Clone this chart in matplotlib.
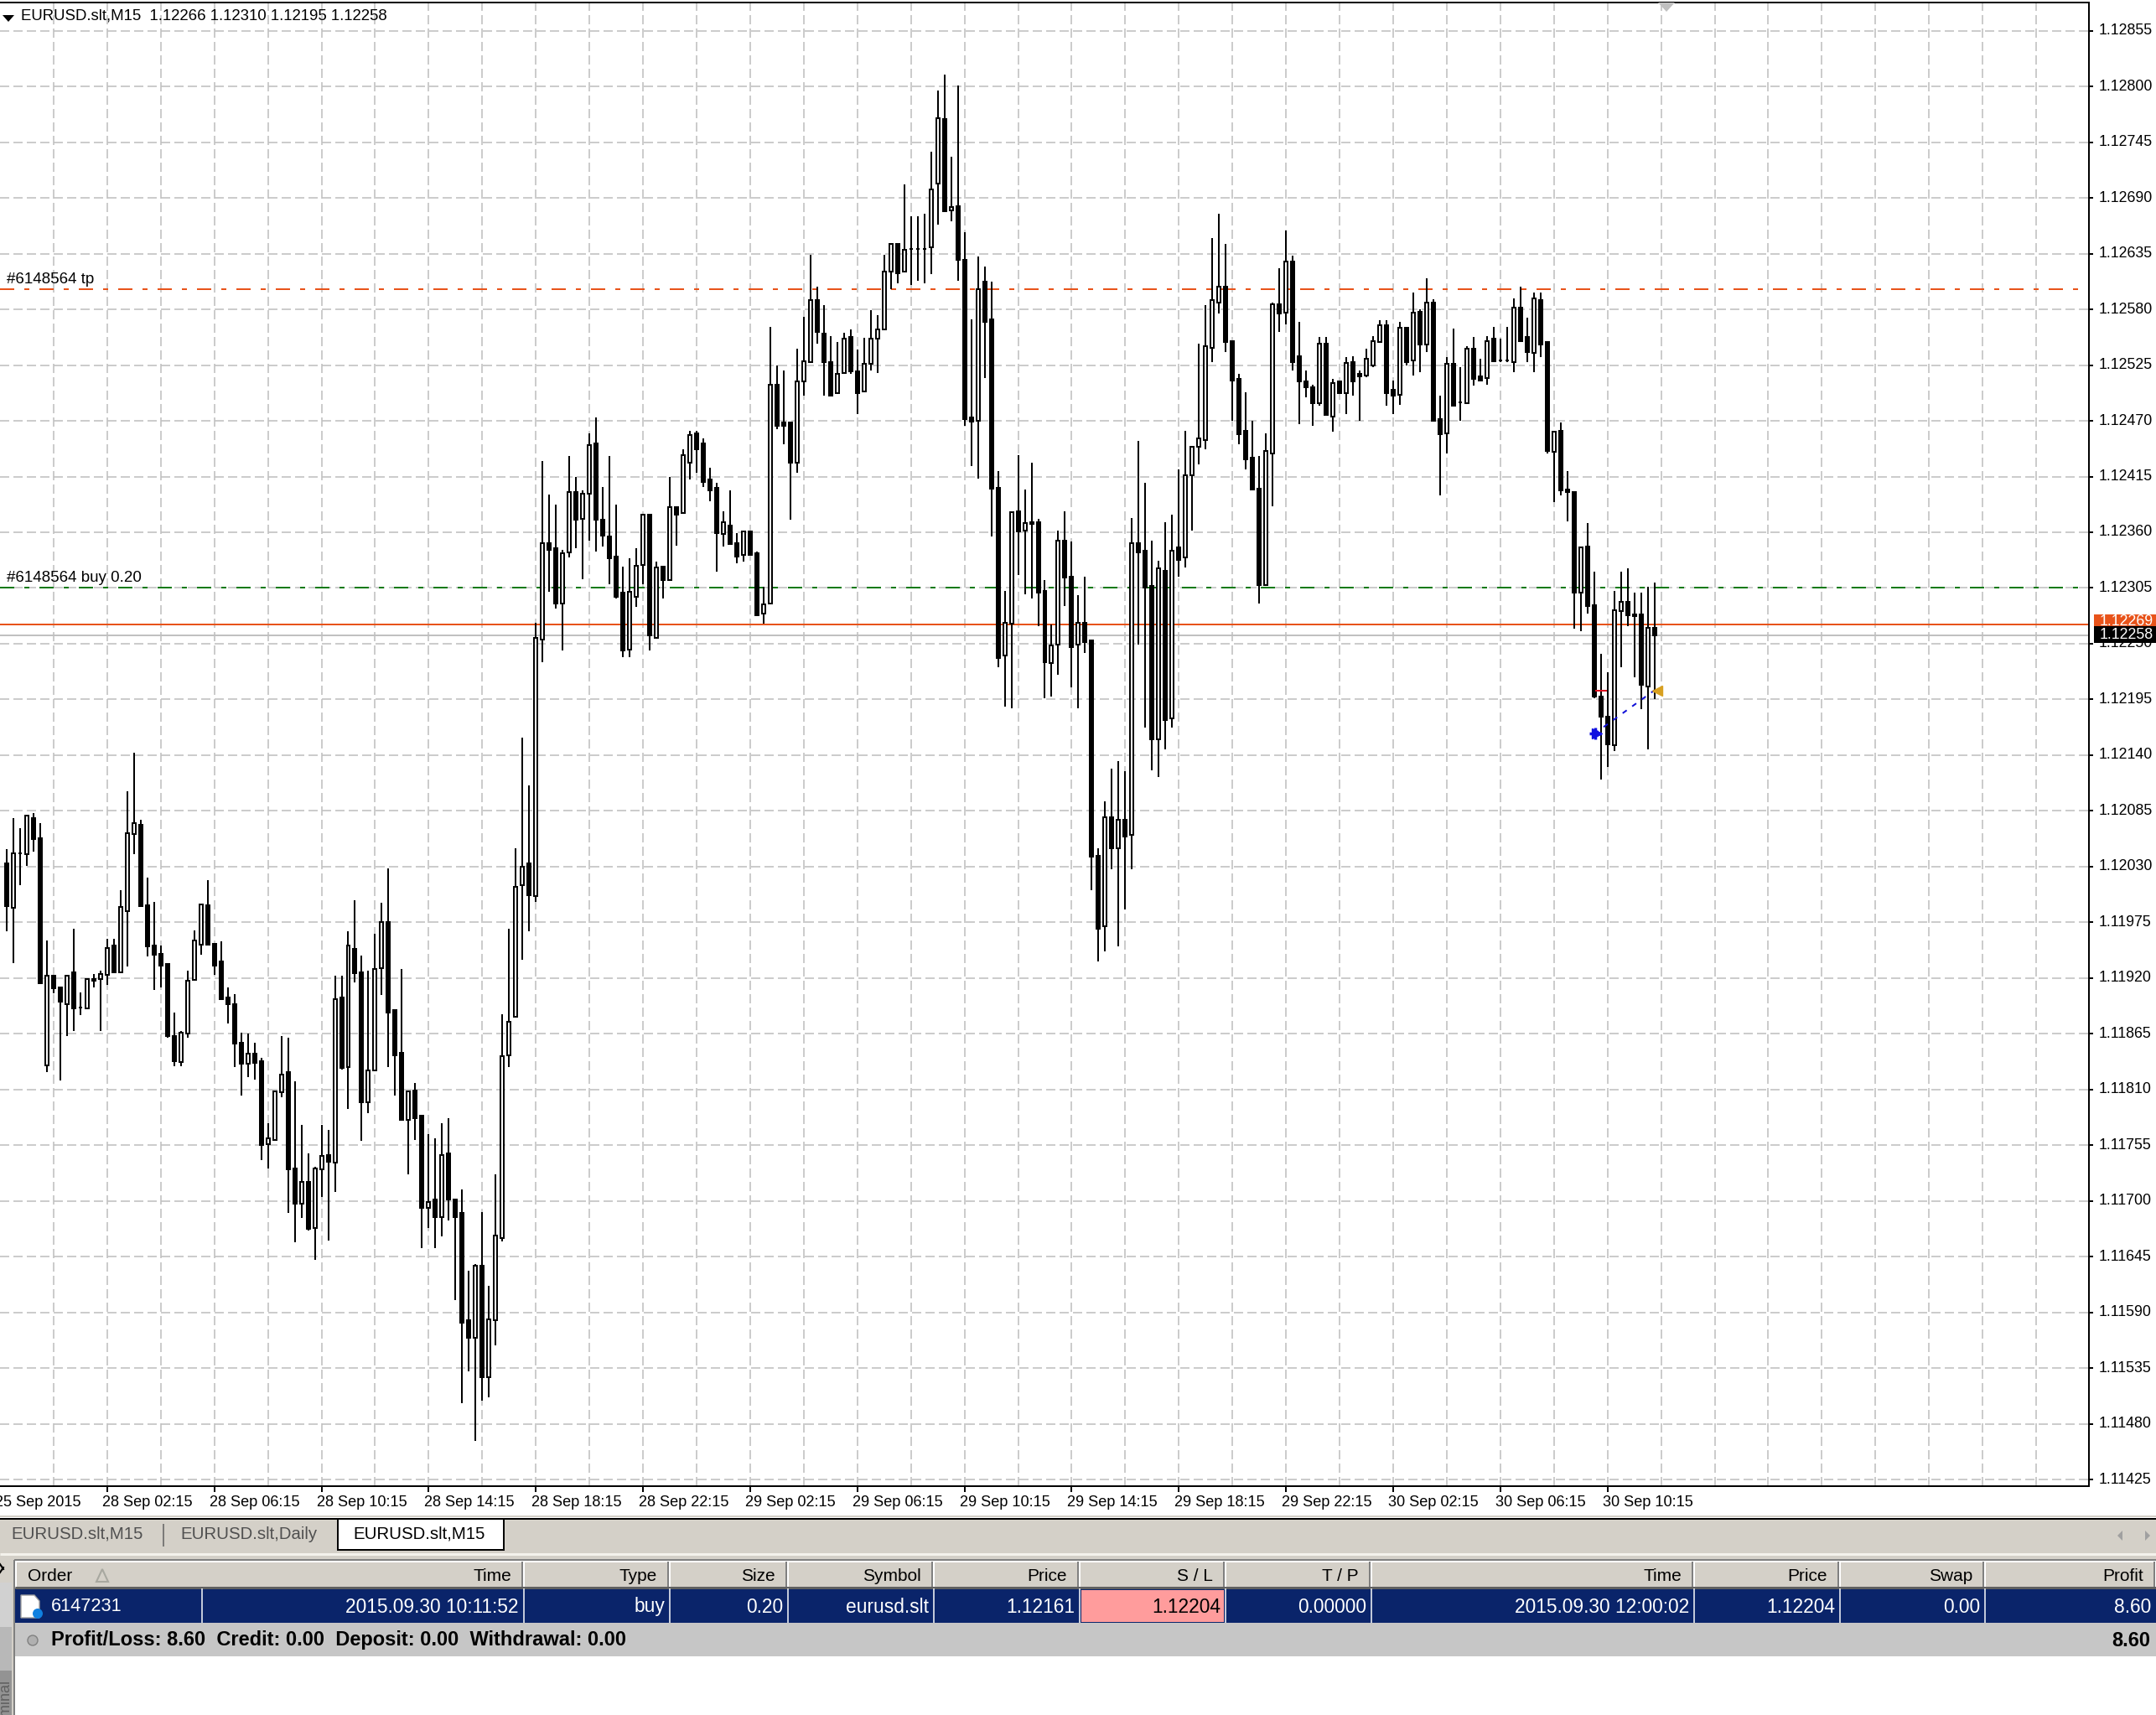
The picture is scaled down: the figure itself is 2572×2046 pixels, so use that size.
import matplotlib
matplotlib.use("Agg")
import matplotlib.pyplot as plt
from matplotlib.patches import Rectangle, Polygon, Circle
from matplotlib.transforms import ScaledTranslation

plt.rcParams["font.family"] = ["Liberation Sans", "DejaVu Sans"]
plt.rcParams["lines.scale_dashes"] = False

# prices in points (1.12258 = 112258), oldest candle first
opens = [
    112033,111989,112043,112042,112078,112058,111834,111922,111911,111894,
    111926,111891,111890,111919,111919,111923,111952,111926,111986,112062,
    112071,111992,111952,111944,111934,111863,111837,111865,111918,111953,
    111992,111954,111936,111901,111894,111856,111835,111845,111838,111756,
    111760,111807,111827,111732,111697,111719,111673,111731,111745,111738,
    111901,111832,111949,111926,111797,111829,111930,111975,111888,111846,
    111780,111809,111784,111693,111701,111684,111747,111701,111688,111582,
    111565,111636,111526,111582,111663,111844,111882,112012,112033,112001,
    112254,112349,112344,112290,112340,112400,112373,112398,112448,112372,
    112356,112336,112300,112244,112296,112328,112377,112256,112326,112313,
    112385,112379,112429,112458,112448,112412,112404,112358,112367,112349,
    112338,112361,112339,112280,112290,112506,112468,112468,112429,112509,
    112528,112589,112556,112528,112497,112517,112553,112519,112499,112526,
    112551,112560,112617,112645,112617,112640,112640,112640,112641,112704,
    112768,112678,112682,112629,112473,112470,112607,112570,112404,112238,
    112270,112381,112362,112370,112370,112302,112231,112249,112352,112316,
    112249,112271,112253,112041,111971,112079,112048,112076,112061,112349,
    112342,112307,112156,112322,112176,112345,112335,112416,112444,112451,
    112542,112587,112602,112549,112511,112460,112434,112403,112308,112438,
    112585,112577,112627,112534,112509,112503,112487,112546,112474,112509,
    112497,112528,112516,112515,112525,112548,112564,112501,112496,112562,
    112530,112578,112545,112587,112472,112458,112526,112488,112487,112541,
    112514,112512,112551,112530,112530,112528,112582,112553,112537,112589,
    112548,112439,112460,112402,112400,112300,112346,112288,112198,112178,
    112150,112282,112291,112279,112279,112208,112266]
highs = [
    112047,112078,112068,112081,112083,112073,111957,111922,111911,111922,
    111969,111906,111919,111924,111927,111959,111959,112007,112104,112142,
    112076,112019,111995,111952,111934,111886,111868,111927,111967,111993,
    112017,111954,111956,111911,111904,111866,111865,111856,111841,111777,
    111808,111863,111861,111818,111775,111747,111734,111775,111770,111922,
    111922,111966,111997,111942,111927,111964,111994,112028,111889,111929,
    111808,111816,111784,111766,111762,111777,111782,111701,111711,111631,
    111638,111689,111616,111726,111884,111969,112048,112157,112110,112271,
    112430,112397,112387,112343,112435,112415,112401,112458,112473,112405,
    112435,112387,112326,112334,112344,112377,112377,112331,112326,112415,
    112385,112442,112460,112460,112453,112424,112409,112381,112401,112359,
    112362,112362,112341,112306,112563,112525,112520,112468,112541,112573,
    112634,112602,112584,112554,112548,112557,112560,112540,112552,112579,
    112574,112634,112645,112645,112703,112672,112672,112674,112736,112796,
    112812,112731,112801,112656,112570,112632,112622,112607,112420,112302,
    112380,112436,112402,112429,112373,112313,112269,112362,112381,112351,
    112298,112316,112253,112048,112094,112127,112134,112124,112374,112450,
    112409,112352,112332,112370,112377,112422,112460,112444,112546,112584,
    112650,112674,112645,112549,112516,112498,112470,112435,112458,112587,
    112621,112658,112633,112568,112520,112506,112553,112553,112511,112509,
    112533,112534,112520,112541,112554,112569,112569,112510,112568,112562,
    112597,112580,112611,112590,112495,112533,112561,112523,112544,112553,
    112531,112554,112563,112551,112563,112591,112602,112572,112597,112597,
    112548,112459,112468,112420,112400,112345,112369,112321,112240,112222,
    112302,112321,112324,112300,112300,112306,112310]
lows = [
    111966,111935,112012,112031,112045,111915,111827,111905,111819,111863,
    111868,111883,111890,111911,111868,111913,111926,111925,111931,112042,
    111991,111941,111908,111911,111861,111833,111833,111861,111918,111943,
    111953,111923,111899,111875,111832,111804,111822,111820,111740,111732,
    111759,111802,111688,111659,111683,111671,111642,111704,111661,111709,
    111830,111791,111916,111759,111787,111829,111903,111832,111804,111780,
    111726,111760,111653,111673,111653,111665,111681,111602,111500,111532,
    111463,111503,111506,111557,111660,111832,111882,111938,111966,111995,
    112232,112301,112285,112243,112335,112344,112314,112352,112341,112346,
    112309,112295,112237,112237,112286,112309,112243,112255,112295,112313,
    112347,112379,112412,112419,112405,112391,112321,112346,112348,112329,
    112331,112338,112278,112270,112290,112462,112447,112372,112419,112495,
    112528,112546,112495,112495,112497,112517,112516,112477,112499,112520,
    112517,112560,112600,112606,112617,112604,112608,112606,112615,112664,
    112676,112667,112608,112465,112425,112413,112512,112356,112227,112188,
    112186,112318,112299,112295,112267,112196,112198,112219,112287,112207,
    112186,112241,112007,111936,111946,112027,111951,111988,112027,112249,
    112167,112125,112118,112146,112167,112316,112325,112362,112427,112442,
    112528,112576,112538,112470,112447,112422,112401,112290,112308,112386,
    112558,112565,112520,112467,112493,112465,112485,112475,112459,112497,
    112477,112495,112470,112513,112523,112548,112485,112477,112486,112525,
    112515,112518,112538,112470,112396,112438,112485,112470,112487,112505,
    112509,112506,112528,112528,112528,112518,112548,112528,112518,112533,
    112438,112390,112396,112371,112265,112262,112280,112196,112116,112128,
    112144,112227,112267,112217,112185,112146,112195]
closes = [
    111991,112043,112043,112080,112057,111915,111922,111910,111897,111922,
    111890,111891,111919,111917,111924,111950,111926,111990,112063,112073,
    111991,111951,111943,111932,111863,111838,111866,111917,111957,111993,
    111953,111932,111899,111894,111855,111835,111845,111836,111755,111762,
    111808,111825,111731,111697,111719,111672,111732,111744,111739,111899,
    111831,111952,111925,111797,111829,111929,111975,111886,111844,111780,
    111808,111782,111693,111699,111684,111745,111701,111684,111580,111565,
    111636,111526,111583,111666,111843,111877,112010,112030,112002,112256,
    112349,112343,112290,112339,112400,112372,112398,112446,112372,112357,
    112334,112296,112243,112301,112327,112377,112258,112325,112313,112385,
    112377,112436,112456,112442,112410,112401,112359,112370,112348,112336,
    112361,112338,112278,112289,112506,112465,112465,112429,112509,112529,
    112589,112558,112528,112495,112516,112551,112519,112497,112526,112551,
    112560,112617,112645,112616,112639,112640,112640,112640,112698,112769,
    112677,112681,112629,112472,112469,112600,112568,112403,112236,112271,
    112380,112361,112369,112368,112300,112232,112248,112352,112315,112247,
    112271,112252,112040,111969,112079,112048,112076,112060,112349,112340,
    112305,112156,112324,112175,112342,112333,112416,112444,112453,112544,
    112589,112602,112548,112510,112457,112432,112402,112308,112440,112585,
    112576,112627,112528,112509,112503,112487,112546,112476,112507,112497,
    112527,112509,112514,112531,112549,112564,112497,112495,112562,112528,
    112577,112545,112587,112470,112457,112526,112485,112488,112541,112511,
    112510,112549,112529,112530,112530,112582,112549,112538,112591,112545,
    112440,112459,112401,112400,112300,112345,112287,112198,112178,112151,
    112283,112291,112278,112277,112209,112266,112258]

price_labels = ["1.12855","1.12800","1.12745","1.12690","1.12635","1.12580","1.12525",
                "1.12470","1.12415","1.12360","1.12305","1.12250","1.12195","1.12140",
                "1.12085","1.12030","1.11975","1.11920","1.11865","1.11810","1.11755",
                "1.11700","1.11645","1.11590","1.11535","1.11480","1.11425"]
time_labels = ["25 Sep 2015","28 Sep 02:15","28 Sep 06:15","28 Sep 10:15","28 Sep 14:15",
               "28 Sep 18:15","28 Sep 22:15","29 Sep 02:15","29 Sep 06:15","29 Sep 10:15",
               "29 Sep 14:15","29 Sep 18:15","29 Sep 22:15","30 Sep 02:15","30 Sep 06:15",
               "30 Sep 10:15"]

tp_price = 1.12600
buy_price = 1.12305
ask_price = 1.12269
bid_price = 1.12258
sl_price = 1.12204

trade_bars = [237, 246]
trade_prices = [1.12161, 1.12204]

headers = ["Time","Type","Size","Symbol","Price","S / L","T / P","Time","Price","Swap","Profit"]
row = ["2015.09.30 10:11:52","buy","0.20","eurusd.slt","1.12161","1.12204","0.00000",
       "2015.09.30 12:00:02","1.12204","0.00","8.60"]
col_edges = [241,625,799,940,1114,1288,1462,1636,2021,2195,2368,2572]

GREY = "#c0c0c0"
PANEL = "#d4d0c8"
ORANGE = "#e8531a"
GREEN = "#0b7a12"
W, H = 2572, 2046
px = 0.72  # one pixel in points at dpi 100

fig = plt.figure(figsize=(W / 100, H / 100), dpi=100, facecolor="white")
ax = fig.add_axes([0, 1 - 1773 / H, 2492 / W, 1770 / H])
ax.set_xlim(-0.625, 310.875)
ax.set_ylim(1.114184, 1.128829)

# grid first, then price lines, candles on top
grid_dash = (0, (11 * px, 5 * px))
ax.set_axisbelow(True)
n_bars = len(opens)
label_bars = [-1 + 16 * i for i in range(len(time_labels))]
ax.set_xticks(label_bars)
ax.set_xticklabels(time_labels, fontsize=13.1, ha="left")
ax.set_xticks([7 + 8 * i for i in range(38)], minor=True)
ax.tick_params(axis="x", which="major", length=7 * px, width=2 * px, pad=5, bottom=True)
ax.tick_params(axis="x", which="minor", length=0)
ax.xaxis.grid(True, which="both", color=GREY, lw=1.6 * px, ls=grid_dash)
ax.get_xticklines()[0].set_visible(False)
ax.xaxis.get_gridlines()[0].set_visible(False)

ax.yaxis.tick_right()
ax.set_yticks([float(p) for p in price_labels])
ax.set_yticklabels(price_labels, fontsize=12.8)
ax.tick_params(axis="y", length=5 * px, width=2 * px, pad=5)
ax.yaxis.grid(True, color=GREY, lw=1.6 * px, ls=grid_dash)

# nudge labels after tick_params, it resets their transforms
x_shift = ScaledTranslation(-5.5 / 100, 3 / 100, fig.dpi_scale_trans)
for lab in ax.get_xticklabels():
    lab.set_transform(lab.get_transform() + x_shift)
y_shift = ScaledTranslation(0, 2 / 100, fig.dpi_scale_trans)
for lab in ax.get_yticklabels():
    lab.set_transform(lab.get_transform() + y_shift)

ax.spines["left"].set_visible(False)
for s in ["top", "right", "bottom"]:
    ax.spines[s].set_linewidth(2 * px)

dash_dot = (0, (17 * px, 12 * px, 6 * px, 12 * px))
ax.axhline(tp_price, color=ORANGE, lw=2 * px, ls=dash_dot, zorder=1.5)
ax.axhline(buy_price, color=GREEN, lw=2 * px, ls=dash_dot, zorder=1.5)
ax.axhline(bid_price, color=GREY, lw=2 * px, zorder=1.5)
ax.axhline(ask_price, color=ORANGE, lw=2 * px, zorder=1.6)

for i in range(n_bars):
    o, h, l, c = opens[i] / 1e5, highs[i] / 1e5, lows[i] / 1e5, closes[i] / 1e5
    ax.plot([i, i], [l, h], color="black", lw=2 * px, solid_capstyle="butt", zorder=2)
    face = "white" if c >= o else "black"
    ax.bar(i, abs(c - o), width=0.5, bottom=min(o, c), facecolor=face,
           edgecolor="black", linewidth=2 * px, zorder=3)

# closed trade and its markers
ax.plot(trade_bars, trade_prices, color="#1010d8", lw=2 * px, ls=(0, (6 * px, 8 * px)), zorder=4)
ax.plot(trade_bars[0] + 0.4, trade_prices[0], marker=">", ms=9, color="#1010e0", zorder=5)
ax.plot(trade_bars[0] + 0.1, trade_prices[0], marker="+", ms=10, mew=2.5, color="#1010e0", zorder=5)
ax.plot(trade_bars[1] + 0.4, trade_prices[1], marker="<", ms=9, color="#d8a020", zorder=5)
ax.plot([trade_bars[0] + 0.1, trade_bars[0] + 1.9], [sl_price, sl_price], color="#e01020",
        lw=2 * px, solid_capstyle="butt", zorder=5)

ax.text(25 / 2492, 1 - 16 / 1770, "EURUSD.slt,M15  1.12266 1.12310 1.12195 1.12258",
        transform=ax.transAxes, fontsize=13.4, va="center", zorder=6)
for price, txt in [(tp_price, "#6148564 tp"), (buy_price, "#6148564 buy 0.20")]:
    ax.annotate(txt, (0, price), xycoords=("axes fraction", "data"), xytext=(8 * px, 3 * px),
                textcoords="offset points", fontsize=13.5, va="bottom", zorder=6)

# everything around the chart is drawn in screen pixels
ov = fig.add_axes([0, 0, 1, 1], zorder=10)
ov.patch.set_visible(False)
ov.axis("off")


def box(x0, y0, x1, y1, color, z=1):
    ov.add_patch(Rectangle((x0, y0), x1 - x0, y1 - y0, facecolor=color, edgecolor="none", zorder=z))


def hline(x0, x1, y, color, lw=2):
    ov.plot([x0, x1], [y, y], color=color, lw=lw * px, solid_capstyle="butt", zorder=3)


def vline(x, y0, y1, color, lw=2):
    ov.plot([x, x], [y0, y1], color=color, lw=lw * px, solid_capstyle="butt", zorder=3)


def label(x, y, txt, size=15, color="black", ha="left", weight="normal", z=4):
    ov.text(x, y, txt, fontsize=size, color=color, ha=ha, va="center", weight=weight, zorder=z)


# left strip, gets darker towards the bottom
ov.imshow([[0.82], [0.72], [0.58]], cmap="gray", vmin=0, vmax=1, aspect="auto",
          extent=(0, 14, H, 1888), zorder=2)
ov.set_xlim(0, W)
ov.set_ylim(H, 0)

# price flags on the right
box(2498, 733, W, 748, ORANGE, 2)
label(2505, 742, "1.12269", size=12.8, color="white", z=3)
box(2498, 747, W, 767, "black", 5)
label(2505, 757, "1.12258", size=12.8, color="white", z=6)
ov.add_patch(Polygon([(1978, 3), (1998, 3), (1988, 14)], facecolor=GREY, zorder=3))
ov.add_patch(Polygon([(3, 18), (17, 18), (10, 26)], facecolor="black", zorder=3))

# tab bar
hline(0, W, 1809, PANEL, 2)
box(0, 1813, W, 1861, PANEL)
hline(0, W, 1812, "black", 2)
hline(0, W, 1854, "#f4f2ec", 3)
box(403, 1810, 601, 1849, "white", 2)
vline(403, 1812, 1850, "black")
vline(601, 1812, 1850, "black")
hline(402, 602, 1849, "black")
label(13, 1830, "EURUSD.slt,M15", size=14.7, color="#505050")
vline(195, 1818, 1845, "#606060", 1.5)
label(215, 1830, "EURUSD.slt,Daily", size=14.7, color="#505050")
label(421, 1830, "EURUSD.slt,M15", size=14.7)
ov.add_patch(Polygon([(2526, 1832), (2532, 1826), (2532, 1838)], facecolor="#a0a0a0", zorder=3))
ov.add_patch(Polygon([(2565, 1832), (2559, 1826), (2559, 1838)], facecolor="#a0a0a0", zorder=3))

# rest of the left strip
box(0, 1861, 17, 1888, PANEL)
box(14, 1888, 17, H, PANEL, 2)
vline(17, 1861, H, "#808080", 2)
ov.plot([0, 4], [1866, 1872], color="black", lw=1.5, zorder=4)
ov.plot([0, 4], [1876, 1870], color="black", lw=1.5, zorder=4)
ov.text(7, 2004, "Terminal", rotation=90, fontsize=13, color="#606060", ha="center", va="top",
        zorder=4)

# table header
box(18, 1862, W, 1895, PANEL)
hline(17, W, 1861, "#808080", 2)
hline(18, W, 1863, "white", 2)
hline(18, W, 1894, "#606060", 3)
vline(19, 1862, 1893, "white", 2)
label(33, 1880, "Order")
ov.add_patch(Polygon([(115, 1887), (129, 1887), (122, 1872)], facecolor="none", edgecolor="#a8a8a0",
                     lw=1.5, zorder=4))
for i, txt in enumerate(headers):
    edge = col_edges[i + 1]
    vline(edge, 1862, 1893, "white", 2)
    vline(edge - 2, 1863, 1893, "#808080", 2)
    label(edge - 15, 1880, txt, ha="right")

# selected row
box(18, 1895, W, 1936, "#0a246a")
box(col_edges[5] + 2, 1897, col_edges[6] - 2, 1935, "#ff9c9c", 2)
for edge in col_edges[:-1]:
    vline(edge, 1895, 1936, "white", 1.5)
label(61, 1917, "6147231", size=15.7, color="white")
ov.add_patch(Polygon([(25, 1903), (41, 1903), (47, 1910), (47, 1930), (25, 1930)],
                     facecolor="white", edgecolor="#a0a0a0", zorder=4))
ov.add_patch(Circle((45, 1925), 6, facecolor="#1080e0", zorder=5))
for i, txt in enumerate(row):
    color = "black" if i == 5 else "white"
    label(col_edges[i + 1] - 6, 1917, txt, size=16.4, color=color, ha="right")

# totals row
box(18, 1936, W, 1976, "#c6c6c6")
ov.add_patch(Circle((39, 1957), 6, facecolor="#b0b0b0", edgecolor="#808080", zorder=4))
label(61, 1957, "Profit/Loss: 8.60  Credit: 0.00  Deposit: 0.00  Withdrawal: 0.00",
      size=17, weight="bold")
label(2565, 1957, "8.60", size=17, weight="bold", ha="right")

fig.savefig("out.png", dpi=100, facecolor="white")
